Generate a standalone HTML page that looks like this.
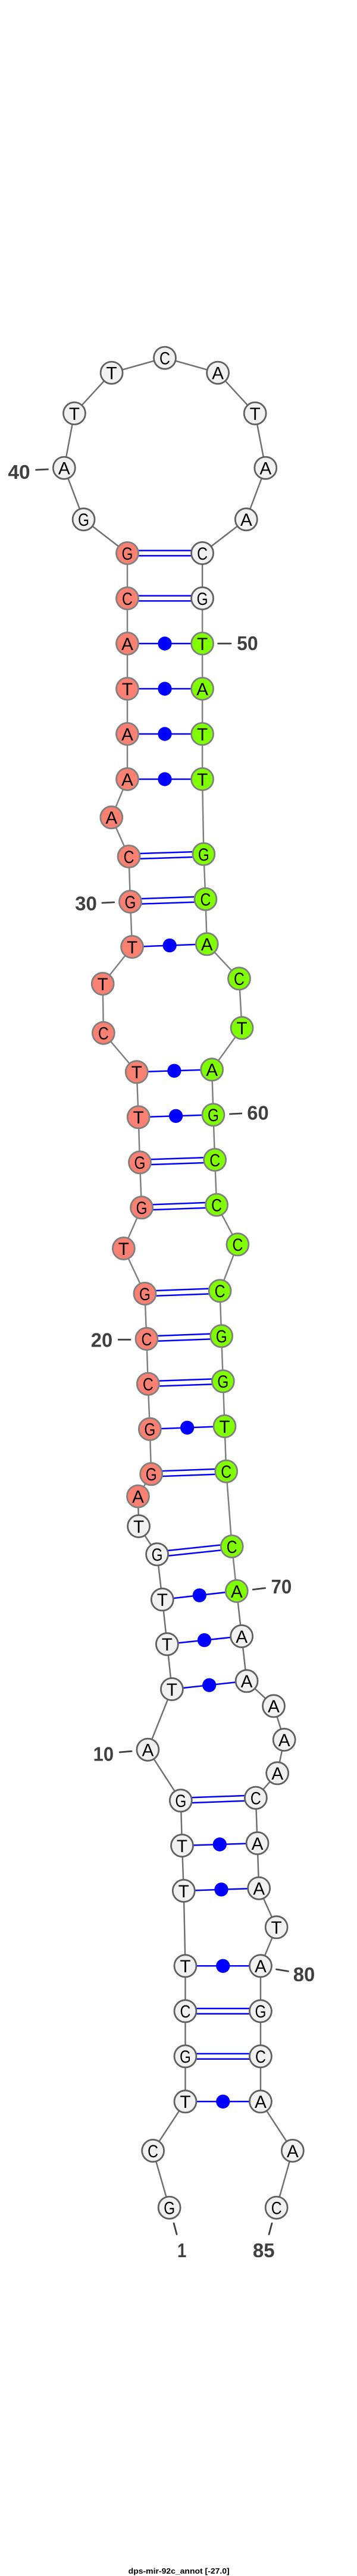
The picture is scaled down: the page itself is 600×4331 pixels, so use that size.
<!DOCTYPE html>
<html><head><meta charset="utf-8"><title>dps-mir-92c_annot</title>
<style>
html,body{margin:0;padding:0;background:#fff}
svg{display:block}
.bb{fill:none;stroke:#808080;stroke-width:2.5}
.bd{fill:none;stroke:#707070;stroke-width:2.5}
.p{stroke:#0000ff;stroke-width:2.5}
.d{fill:#0000ff}
.w{fill:#f1f1f1;stroke:#606060;stroke-width:2.8}
.r{fill:#fa8072;stroke:#808080;stroke-width:2.8}
.g{fill:#7fff00;stroke:#808080;stroke-width:2.8}
.w circle,.r circle,.g circle{r:18.6px}
.n text{font-family:"Liberation Sans",sans-serif;font-size:30px;fill:#000;text-anchor:middle}
.l{font-family:"Liberation Sans",sans-serif;font-size:33px;font-weight:bold;fill:#404040}
.t{stroke:#404040;stroke-width:2.8;stroke-linecap:round}
.h{font-family:"Liberation Sans",sans-serif;font-size:13px;font-weight:bold;fill:#000}
</style></head><body>
<svg xmlns="http://www.w3.org/2000/svg" width="600" height="4331" viewBox="0 0 600 4331">
<rect width="600" height="4331" fill="#fff"/>
<g transform="scale(0.9935,1)">
<polyline class="bd" points="286.5,3711.7 258.8,3616 313.5,3533.3 313.5,3457.3 313.5,3381.3 313.5,3305.3 310.8,3179 308,3103 305.8,3027.3 250,2941.7 290.8,2840 282.7,2764.3 274.6,2689.3 265.8,2613.3 234.6,2566 233.5,2515.7"/>
<polyline class="bb" points="233.5,2515.7 255.8,2478.3 253.5,2402.7 250.4,2326.7 248,2251 245,2175 209.2,2099 239.6,2030.3 236.5,1954.3 234.2,1878.3 231.2,1802.3 175,1736.7 173.8,1654 223.5,1592 220.4,1516 218,1440 188.5,1374.3 215.4,1310 215.4,1234 215.4,1158 215.4,1082 215.4,1006 215.4,930"/>
<polyline class="bd" points="215.4,930 141.5,873.3 108.5,786.7 125.8,695 188.8,626.7 278.8,601.7 368.5,626.7 431.5,695 449.2,786.7 416.5,873.3 342.3,930 342.3,1006"/>
<polyline class="bb" points="342.3,1006 342.3,1082 342.3,1158 342.3,1234 342.3,1310 344.6,1436 347.7,1511.7 350,1587.3 404.6,1645.3 409.2,1728.3 358.5,1798.3 360.8,1874.3 363.5,1950 366.5,2025.7 402,2092.3 372,2170.3 374.6,2246.3 377.3,2322.3 380,2398 382.7,2473.7 392.3,2600 400.4,2675"/>
<polyline class="bd" points="400.4,2675 408.8,2751 417.3,2826.3 463,2868.3 480.8,2925 469.2,2981.3 432.7,3022.7 435.4,3099 438,3174.7 467.7,3240.3 440.8,3305.3 440.8,3381.3 440.8,3457.3 440.8,3533.3 495,3616 467.7,3711.7"/>

<g class="p">
<line x1="215.4" y1="925.6" x2="342.3" y2="925.6"/><line x1="215.4" y1="934.4" x2="342.3" y2="934.4"/>
<line x1="215.4" y1="1001.6" x2="342.3" y2="1001.6"/><line x1="215.4" y1="1010.4" x2="342.3" y2="1010.4"/>
<line x1="218" y1="1435.6" x2="344.6" y2="1431.6"/><line x1="218" y1="1444.4" x2="344.6" y2="1440.4"/>
<line x1="220.4" y1="1511.6" x2="347.7" y2="1507.3"/><line x1="220.4" y1="1520.4" x2="347.7" y2="1516.1"/>
<line x1="236.5" y1="1949.9" x2="363.5" y2="1945.6"/><line x1="236.5" y1="1958.7" x2="363.5" y2="1954.4"/>
<line x1="239.6" y1="2025.9" x2="366.5" y2="2021.3"/><line x1="239.6" y1="2034.7" x2="366.5" y2="2030.1"/>
<line x1="245" y1="2170.6" x2="372" y2="2165.9"/><line x1="245" y1="2179.4" x2="372" y2="2174.7"/>
<line x1="248" y1="2246.6" x2="374.6" y2="2241.9"/><line x1="248" y1="2255.4" x2="374.6" y2="2250.7"/>
<line x1="250.4" y1="2322.3" x2="377.3" y2="2317.9"/><line x1="250.4" y1="2331.1" x2="377.3" y2="2326.7"/>
<line x1="255.8" y1="2473.9" x2="382.7" y2="2469.3"/><line x1="255.8" y1="2482.7" x2="382.7" y2="2478.1"/>
<line x1="265.8" y1="2608.9" x2="392.3" y2="2595.6"/><line x1="265.8" y1="2617.7" x2="392.3" y2="2604.4"/>
<line x1="305.8" y1="3022.9" x2="432.7" y2="3018.3"/><line x1="305.8" y1="3031.7" x2="432.7" y2="3027.1"/>
<line x1="313.5" y1="3376.9" x2="440.8" y2="3376.9"/><line x1="313.5" y1="3385.7" x2="440.8" y2="3385.7"/>
<line x1="313.5" y1="3452.9" x2="440.8" y2="3452.9"/><line x1="313.5" y1="3461.7" x2="440.8" y2="3461.7"/>
<line x1="215.4" y1="1082" x2="342.3" y2="1082"/>
<line x1="215.4" y1="1158" x2="342.3" y2="1158"/>
<line x1="215.4" y1="1234" x2="342.3" y2="1234"/>
<line x1="215.4" y1="1310" x2="342.3" y2="1310"/>
<line x1="223.5" y1="1592" x2="350" y2="1587.3"/>
<line x1="231.2" y1="1802.3" x2="358.5" y2="1798.3"/>
<line x1="234.2" y1="1878.3" x2="360.8" y2="1874.3"/>
<line x1="253.5" y1="2402.7" x2="380" y2="2398"/>
<line x1="274.6" y1="2689.3" x2="400.4" y2="2675"/>
<line x1="282.7" y1="2764.3" x2="408.8" y2="2751"/>
<line x1="290.8" y1="2840" x2="417.3" y2="2826.3"/>
<line x1="308" y1="3103" x2="435.4" y2="3099"/>
<line x1="310.8" y1="3179" x2="438" y2="3174.7"/>
<line x1="313.5" y1="3305.3" x2="440.8" y2="3305.3"/>
<line x1="313.5" y1="3533.3" x2="440.8" y2="3533.3"/>
</g>
<g class="d">
<circle cx="278.8" cy="1082" r="11.7"/>
<circle cx="278.8" cy="1158" r="11.7"/>
<circle cx="278.8" cy="1234" r="11.7"/>
<circle cx="278.8" cy="1310" r="11.7"/>
<circle cx="287" cy="1589.6" r="11.7"/>
<circle cx="294.8" cy="1800.3" r="11.7"/>
<circle cx="297.5" cy="1876.3" r="11.7"/>
<circle cx="316.7" cy="2400.3" r="11.7"/>
<circle cx="337.5" cy="2682.2" r="11.7"/>
<circle cx="345.7" cy="2757.6" r="11.7"/>
<circle cx="354" cy="2833.2" r="11.7"/>
<circle cx="371.7" cy="3101" r="11.7"/>
<circle cx="374.4" cy="3176.8" r="11.7"/>
<circle cx="377.2" cy="3305.3" r="11.7"/>
<circle cx="377.2" cy="3533.3" r="11.7"/>
</g>

<g class="w">
<circle cx="286.5" cy="3711.7" r="18"/><circle cx="258.8" cy="3616" r="18"/><circle cx="313.5" cy="3533.3" r="18"/><circle cx="313.5" cy="3457.3" r="18"/><circle cx="313.5" cy="3381.3" r="18"/><circle cx="313.5" cy="3305.3" r="18"/><circle cx="310.8" cy="3179" r="18"/><circle cx="308" cy="3103" r="18"/><circle cx="305.8" cy="3027.3" r="18"/><circle cx="250" cy="2941.7" r="18"/><circle cx="290.8" cy="2840" r="18"/><circle cx="282.7" cy="2764.3" r="18"/><circle cx="274.6" cy="2689.3" r="18"/><circle cx="265.8" cy="2613.3" r="18"/><circle cx="234.6" cy="2566" r="18"/>
<circle cx="141.5" cy="873.3" r="18"/><circle cx="108.5" cy="786.7" r="18"/><circle cx="125.8" cy="695" r="18"/><circle cx="188.8" cy="626.7" r="18"/><circle cx="278.8" cy="601.7" r="18"/><circle cx="368.5" cy="626.7" r="18"/><circle cx="431.5" cy="695" r="18"/><circle cx="449.2" cy="786.7" r="18"/><circle cx="416.5" cy="873.3" r="18"/><circle cx="342.3" cy="930" r="18"/><circle cx="342.3" cy="1006" r="18"/>
<circle cx="408.8" cy="2751" r="18"/><circle cx="417.3" cy="2826.3" r="18"/><circle cx="463" cy="2868.3" r="18"/><circle cx="480.8" cy="2925" r="18"/><circle cx="469.2" cy="2981.3" r="18"/><circle cx="432.7" cy="3022.7" r="18"/><circle cx="435.4" cy="3099" r="18"/><circle cx="438" cy="3174.7" r="18"/><circle cx="467.7" cy="3240.3" r="18"/><circle cx="440.8" cy="3305.3" r="18"/><circle cx="440.8" cy="3381.3" r="18"/><circle cx="440.8" cy="3457.3" r="18"/><circle cx="440.8" cy="3533.3" r="18"/><circle cx="495" cy="3616" r="18"/><circle cx="467.7" cy="3711.7" r="18"/>
</g>
<g class="r">
<circle cx="233.5" cy="2515.7" r="18"/><circle cx="255.8" cy="2478.3" r="18"/><circle cx="253.5" cy="2402.7" r="18"/><circle cx="250.4" cy="2326.7" r="18"/><circle cx="248" cy="2251" r="18"/><circle cx="245" cy="2175" r="18"/><circle cx="209.2" cy="2099" r="18"/><circle cx="239.6" cy="2030.3" r="18"/><circle cx="236.5" cy="1954.3" r="18"/><circle cx="234.2" cy="1878.3" r="18"/><circle cx="231.2" cy="1802.3" r="18"/><circle cx="175" cy="1736.7" r="18"/><circle cx="173.8" cy="1654" r="18"/><circle cx="223.5" cy="1592" r="18"/><circle cx="220.4" cy="1516" r="18"/><circle cx="218" cy="1440" r="18"/><circle cx="188.5" cy="1374.3" r="18"/><circle cx="215.4" cy="1310" r="18"/><circle cx="215.4" cy="1234" r="18"/><circle cx="215.4" cy="1158" r="18"/><circle cx="215.4" cy="1082" r="18"/><circle cx="215.4" cy="1006" r="18"/><circle cx="215.4" cy="930" r="18"/>
</g>
<g class="g">
<circle cx="342.3" cy="1082" r="18"/><circle cx="342.3" cy="1158" r="18"/><circle cx="342.3" cy="1234" r="18"/><circle cx="342.3" cy="1310" r="18"/><circle cx="344.6" cy="1436" r="18"/><circle cx="347.7" cy="1511.7" r="18"/><circle cx="350" cy="1587.3" r="18"/><circle cx="404.6" cy="1645.3" r="18"/><circle cx="409.2" cy="1728.3" r="18"/><circle cx="358.5" cy="1798.3" r="18"/><circle cx="360.8" cy="1874.3" r="18"/><circle cx="363.5" cy="1950" r="18"/><circle cx="366.5" cy="2025.7" r="18"/><circle cx="402" cy="2092.3" r="18"/><circle cx="372" cy="2170.3" r="18"/><circle cx="374.6" cy="2246.3" r="18"/><circle cx="377.3" cy="2322.3" r="18"/><circle cx="380" cy="2398" r="18"/><circle cx="382.7" cy="2473.7" r="18"/><circle cx="392.3" cy="2600" r="18"/><circle cx="400.4" cy="2675" r="18"/>
</g>

<g class="n">
<text x="286.5" y="3722.5" textLength="19" lengthAdjust="spacingAndGlyphs">G</text>
<text x="258.8" y="3626.8" textLength="18" lengthAdjust="spacingAndGlyphs">C</text>
<text x="313.5" y="3544.1">T</text>
<text x="313.5" y="3468.1" textLength="19" lengthAdjust="spacingAndGlyphs">G</text>
<text x="313.5" y="3392.1" textLength="18" lengthAdjust="spacingAndGlyphs">C</text>
<text x="313.5" y="3316.1">T</text>
<text x="310.8" y="3189.8">T</text>
<text x="308" y="3113.8">T</text>
<text x="305.8" y="3038.1" textLength="19" lengthAdjust="spacingAndGlyphs">G</text>
<text x="250" y="2952.5">A</text>
<text x="290.8" y="2850.8">T</text>
<text x="282.7" y="2775.1">T</text>
<text x="274.6" y="2700.1">T</text>
<text x="265.8" y="2624.1" textLength="19" lengthAdjust="spacingAndGlyphs">G</text>
<text x="234.6" y="2576.8">T</text>
<text x="233.5" y="2526.5">A</text>
<text x="255.8" y="2489.1" textLength="19" lengthAdjust="spacingAndGlyphs">G</text>
<text x="253.5" y="2413.5" textLength="19" lengthAdjust="spacingAndGlyphs">G</text>
<text x="250.4" y="2337.5" textLength="18" lengthAdjust="spacingAndGlyphs">C</text>
<text x="248" y="2261.8" textLength="18" lengthAdjust="spacingAndGlyphs">C</text>
<text x="245" y="2185.8" textLength="19" lengthAdjust="spacingAndGlyphs">G</text>
<text x="209.2" y="2109.8">T</text>
<text x="239.6" y="2041.1" textLength="19" lengthAdjust="spacingAndGlyphs">G</text>
<text x="236.5" y="1965.1" textLength="19" lengthAdjust="spacingAndGlyphs">G</text>
<text x="234.2" y="1889.1">T</text>
<text x="231.2" y="1813.1">T</text>
<text x="175" y="1747.5" textLength="18" lengthAdjust="spacingAndGlyphs">C</text>
<text x="173.8" y="1664.8">T</text>
<text x="223.5" y="1602.8">T</text>
<text x="220.4" y="1526.8" textLength="19" lengthAdjust="spacingAndGlyphs">G</text>
<text x="218" y="1450.8" textLength="18" lengthAdjust="spacingAndGlyphs">C</text>
<text x="188.5" y="1385.1">A</text>
<text x="215.4" y="1320.8">A</text>
<text x="215.4" y="1244.8">A</text>
<text x="215.4" y="1168.8">T</text>
<text x="215.4" y="1092.8">A</text>
<text x="215.4" y="1016.8" textLength="18" lengthAdjust="spacingAndGlyphs">C</text>
<text x="215.4" y="940.8" textLength="19" lengthAdjust="spacingAndGlyphs">G</text>
<text x="141.5" y="884.1" textLength="19" lengthAdjust="spacingAndGlyphs">G</text>
<text x="108.5" y="797.5">A</text>
<text x="125.8" y="705.8">T</text>
<text x="188.8" y="637.5">T</text>
<text x="278.8" y="612.5" textLength="18" lengthAdjust="spacingAndGlyphs">C</text>
<text x="368.5" y="637.5">A</text>
<text x="431.5" y="705.8">T</text>
<text x="449.2" y="797.5">A</text>
<text x="416.5" y="884.1">A</text>
<text x="342.3" y="940.8" textLength="18" lengthAdjust="spacingAndGlyphs">C</text>
<text x="342.3" y="1016.8" textLength="19" lengthAdjust="spacingAndGlyphs">G</text>
<text x="342.3" y="1092.8">T</text>
<text x="342.3" y="1168.8">A</text>
<text x="342.3" y="1244.8">T</text>
<text x="342.3" y="1320.8">T</text>
<text x="344.6" y="1446.8" textLength="19" lengthAdjust="spacingAndGlyphs">G</text>
<text x="347.7" y="1522.5" textLength="18" lengthAdjust="spacingAndGlyphs">C</text>
<text x="350" y="1598.1">A</text>
<text x="404.6" y="1656.1" textLength="18" lengthAdjust="spacingAndGlyphs">C</text>
<text x="409.2" y="1739.1">T</text>
<text x="358.5" y="1809.1">A</text>
<text x="360.8" y="1885.1" textLength="19" lengthAdjust="spacingAndGlyphs">G</text>
<text x="363.5" y="1960.8" textLength="18" lengthAdjust="spacingAndGlyphs">C</text>
<text x="366.5" y="2036.5" textLength="18" lengthAdjust="spacingAndGlyphs">C</text>
<text x="402" y="2103.1" textLength="18" lengthAdjust="spacingAndGlyphs">C</text>
<text x="372" y="2181.1" textLength="18" lengthAdjust="spacingAndGlyphs">C</text>
<text x="374.6" y="2257.1" textLength="19" lengthAdjust="spacingAndGlyphs">G</text>
<text x="377.3" y="2333.1" textLength="19" lengthAdjust="spacingAndGlyphs">G</text>
<text x="380" y="2408.8">T</text>
<text x="382.7" y="2484.5" textLength="18" lengthAdjust="spacingAndGlyphs">C</text>
<text x="392.3" y="2610.8" textLength="18" lengthAdjust="spacingAndGlyphs">C</text>
<text x="400.4" y="2685.8">A</text>
<text x="408.8" y="2761.8">A</text>
<text x="417.3" y="2837.1">A</text>
<text x="463" y="2879.1">A</text>
<text x="480.8" y="2935.8">A</text>
<text x="469.2" y="2992.1">A</text>
<text x="432.7" y="3033.5" textLength="18" lengthAdjust="spacingAndGlyphs">C</text>
<text x="435.4" y="3109.8">A</text>
<text x="438" y="3185.5">A</text>
<text x="467.7" y="3251.1">T</text>
<text x="440.8" y="3316.1">A</text>
<text x="440.8" y="3392.1" textLength="19" lengthAdjust="spacingAndGlyphs">G</text>
<text x="440.8" y="3468.1" textLength="18" lengthAdjust="spacingAndGlyphs">C</text>
<text x="440.8" y="3544.1">A</text>
<text x="495" y="3626.8">A</text>
<text x="467.7" y="3722.5" textLength="18" lengthAdjust="spacingAndGlyphs">C</text>
</g>

<line class="t" x1="294" y1="3738" x2="299" y2="3756.5"/>
<line class="t" x1="460" y1="3738" x2="455" y2="3756.5"/>
<line class="t" x1="61" y1="790" x2="81" y2="789"/>
<line class="t" x1="369" y1="1082" x2="390.5" y2="1082"/>
<line class="t" x1="173" y1="1518" x2="193" y2="1517"/>
<line class="t" x1="389" y1="1873" x2="408.5" y2="1872"/>
<line class="t" x1="200.5" y1="2252.3" x2="220.5" y2="2252.3"/>
<line class="t" x1="428" y1="2672.5" x2="448.5" y2="2670"/>
<line class="t" x1="202.5" y1="2946" x2="222.5" y2="2944.3"/>
<line class="t" x1="467.5" y1="3311" x2="487.5" y2="3314.3"/>

<text class="l" x="13.5" y="805" textLength="37.5" lengthAdjust="spacingAndGlyphs">40</text>
<text class="l" x="400.8" y="1093" textLength="35.7" lengthAdjust="spacingAndGlyphs">50</text>
<text class="l" x="127" y="1530.7" textLength="37" lengthAdjust="spacingAndGlyphs">30</text>
<text class="l" x="418" y="1882.3" textLength="36.6" lengthAdjust="spacingAndGlyphs">60</text>
<text class="l" x="153.8" y="2264.3" textLength="36.6" lengthAdjust="spacingAndGlyphs">20</text>
<text class="l" x="458.5" y="2679" textLength="35" lengthAdjust="spacingAndGlyphs">70</text>
<text class="l" x="157.7" y="2960.7" textLength="34.6" lengthAdjust="spacingAndGlyphs">10</text>
<text class="l" x="496" y="3331" textLength="36.7" lengthAdjust="spacingAndGlyphs">80</text>
<text class="l" x="300" y="3795" textLength="15.4" lengthAdjust="spacingAndGlyphs">1</text>
<text class="l" x="427.7" y="3795" textLength="36.9" lengthAdjust="spacingAndGlyphs">85</text>
</g>
<text class="h" x="215.7" y="4327" textLength="170" lengthAdjust="spacingAndGlyphs">dps-mir-92c_annot [-27.0]</text>
</svg>
</body></html>
